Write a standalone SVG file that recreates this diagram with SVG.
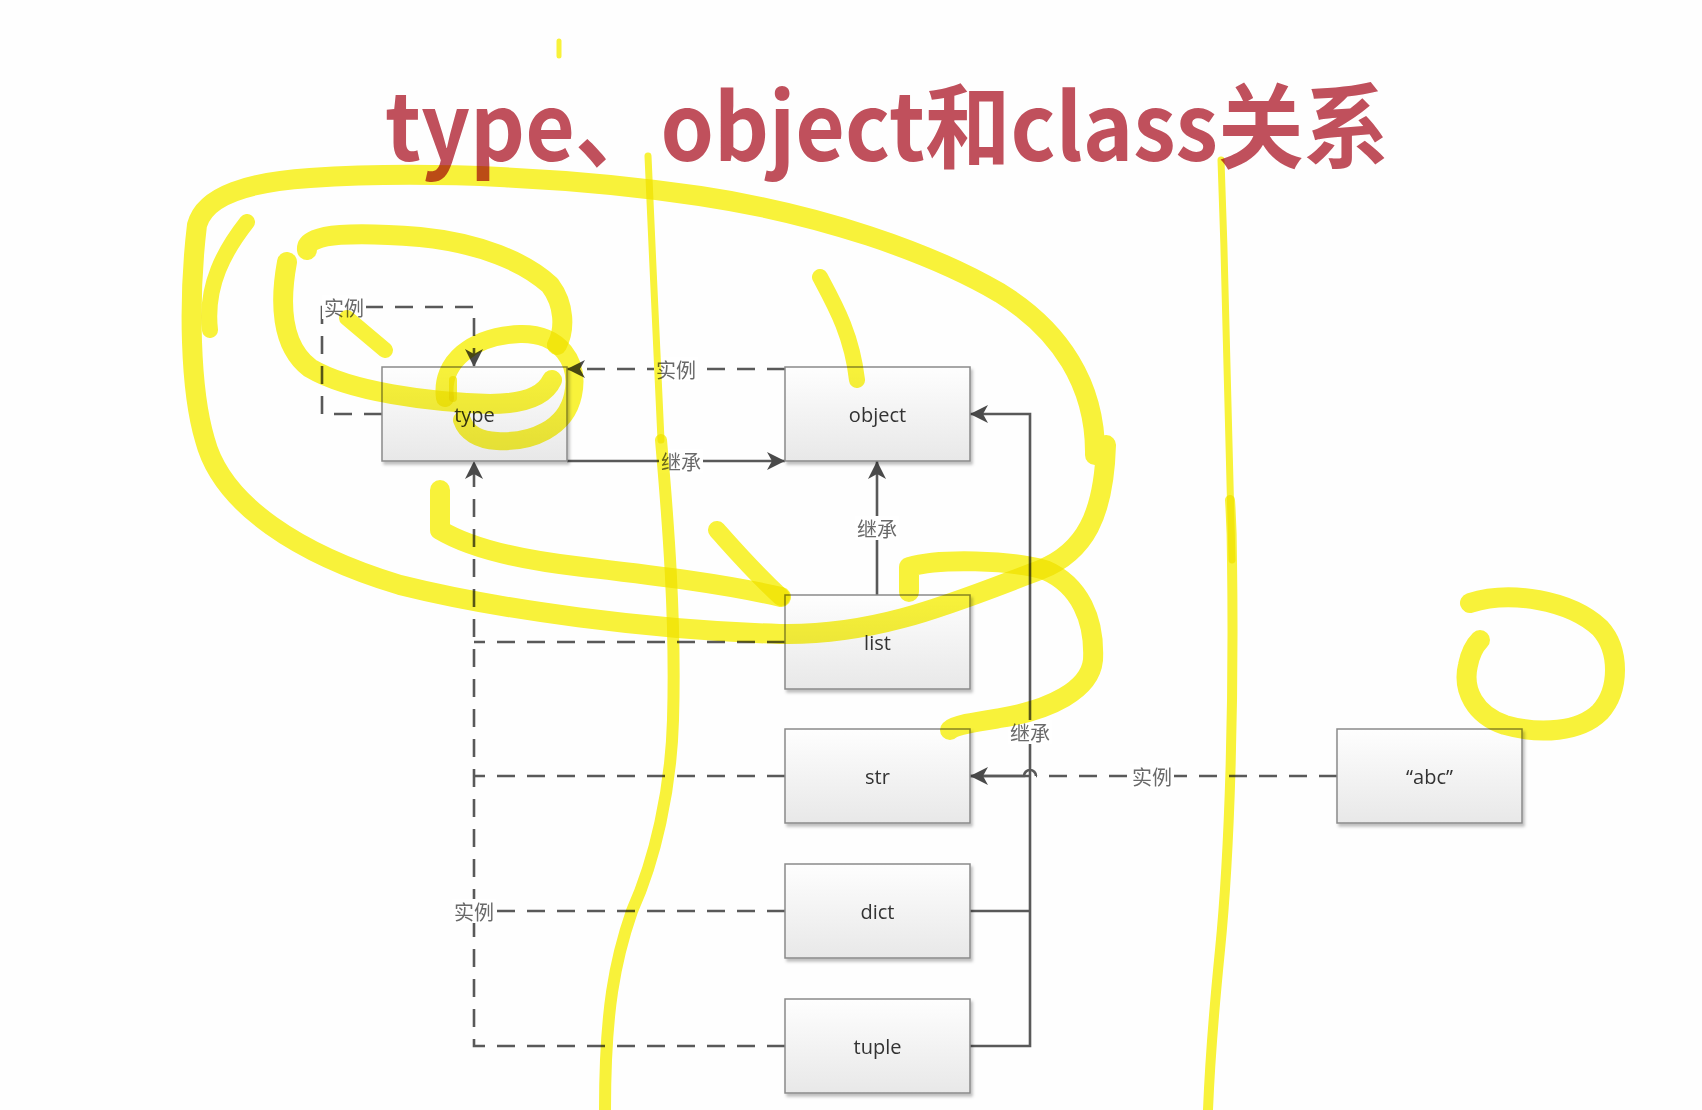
<svg xmlns="http://www.w3.org/2000/svg" width="1702" height="1110" viewBox="0 0 1702 1110">
<defs>
  <linearGradient id="boxg" x1="0" y1="0" x2="0" y2="1">
    <stop offset="0" stop-color="#fefefe"/>
    <stop offset="1" stop-color="#e8e8e8"/>
  </linearGradient>
  <filter id="sh" x="-10%" y="-10%" width="130%" height="130%">
    <feDropShadow dx="2" dy="3" stdDeviation="1.5" flood-color="#000" flood-opacity="0.25"/>
  </filter>
  <marker id="arr" viewBox="0 0 18 18" refX="18" refY="9" markerWidth="18" markerHeight="18" markerUnits="userSpaceOnUse" orient="auto">
    <path d="M0,0 L18,9 L0,18 L5,9 z" fill="#4a4a4a"/>
  </marker>
  <style>
    .box rect {fill:url(#boxg); stroke:#8a8a8a; stroke-width:1.5; filter:url(#sh)}
    .box text {font-family:"Open Sans","Noto Sans",sans-serif; font-size:20px; fill:#333; text-anchor:middle; dominant-baseline:central}
    .ln {fill:none; stroke:#595959; stroke-width:2.6}
    .dash {stroke-dasharray:18 12}
    .lbl rect {fill:#fff}
    .lbl text {font-family:"Noto Sans CJK SC",sans-serif; font-size:20px; fill:#6a6a6a; text-anchor:middle; dominant-baseline:central}
    .hl {fill:none; stroke:#f9f33a; stroke-linecap:round; stroke-linejoin:round; mix-blend-mode:multiply}
  </style>
</defs>
<rect x="0" y="0" width="1702" height="1110" fill="#fefefe"/>

<text x="385" y="161" font-family="'Noto Sans CJK SC',sans-serif" font-weight="700" font-size="92" fill="#c0505c" textLength="1004" lengthAdjust="spacingAndGlyphs">type、object和class关系</text>

<g id="connectors">
  <path class="ln dash" d="M382 414 H322 V307 H474 V367" marker-end="url(#arr)"/>
  <path class="ln dash" d="M785 369 H567" marker-end="url(#arr)"/>
  <path class="ln" d="M567 461 H785" marker-end="url(#arr)"/>
  <path class="ln" d="M877 595 V461" marker-end="url(#arr)"/>
  <path class="ln dash" d="M785 1046 H474 V461" marker-end="url(#arr)"/>
  <path class="ln dash" d="M785 642 H474"/>
  <path class="ln dash" d="M785 776 H474"/>
  <path class="ln dash" d="M785 911 H474"/>
  <path class="ln" d="M970 1046 H1030 V414 H970" marker-end="url(#arr)"/>
  <path class="ln" d="M970 911 H1030"/>
  <path class="ln" d="M970 776 H1030"/>
  <path class="ln dash" d="M1337 776 H1036"/>
  <path class="ln" d="M1036 776 A6 6 0 0 0 1024 776 H970" marker-end="url(#arr)"/>

  <g class="lbl">
    <rect x="322" y="295" width="44" height="24"/><text x="344" y="307">实例</text>
    <rect x="654" y="357" width="44" height="24"/><text x="676" y="369">实例</text>
    <rect x="659" y="449" width="44" height="24"/><text x="681" y="461">继承</text>
    <rect x="855" y="516" width="44" height="24"/><text x="877" y="528">继承</text>
    <rect x="452" y="899" width="44" height="24"/><text x="474" y="911">实例</text>
    <rect x="1008" y="720" width="44" height="24"/><text x="1030" y="732">继承</text>
    <rect x="1130" y="764" width="44" height="24"/><text x="1152" y="776">实例</text>
  </g>
</g>

<g id="node-type" class="box"><rect x="382" y="367" width="185" height="94"/><text x="474.5" y="414">type</text></g>
<g id="node-object" class="box"><rect x="785" y="367" width="185" height="94"/><text x="877.5" y="414">object</text></g>
<g id="node-list" class="box"><rect x="785" y="595" width="185" height="94"/><text x="877.5" y="642">list</text></g>
<g id="node-str" class="box"><rect x="785" y="729" width="185" height="94"/><text x="877.5" y="776">str</text></g>
<g id="node-dict" class="box"><rect x="785" y="864" width="185" height="94"/><text x="877.5" y="911">dict</text></g>
<g id="node-tuple" class="box"><rect x="785" y="999" width="185" height="94"/><text x="877.5" y="1046">tuple</text></g>
<g id="node-abc" class="box"><rect x="1337" y="729" width="185" height="94"/><text x="1429.5" y="776">“abc”</text></g>

<g id="highlights">
  <path class="hl" stroke-width="20" d="M1095 455 C1096 385 1060 330 1000 293 C930 252 820 214 700 196 C580 178 430 170 310 178 C250 182 205 195 197 225 C188 300 190 390 205 440 C222 505 300 555 400 585 C500 610 650 630 780 634 C880 636 960 600 1040 570 C1085 552 1104 515 1106 445"/>
  <path class="hl" stroke-width="16" d="M247 222 C225 250 205 285 210 330"/>
  <path class="hl" stroke-width="20" d="M307 250 C305 232 360 232 420 237 C480 243 525 262 550 285 C565 305 565 330 557 345"/>
  <path class="hl" stroke-width="20" d="M287 262 C280 300 280 345 310 368 C350 392 430 402 490 404 C525 404 545 395 552 380"/>
  <path class="hl" stroke-width="18" d="M445 398 C440 362 472 336 520 334 C560 333 580 362 573 395 C566 428 532 443 497 441 C478 440 466 432 462 420"/>
  <path class="hl" stroke-width="8" d="M453 380 L453 398"/>
  <path class="hl" stroke-width="16" d="M347 318 L385 350"/>
  <path class="hl" stroke-width="20" d="M440 490 L440 530 C470 548 520 560 583 567 C650 575 720 583 781 597"/>
  <path class="hl" stroke-width="18" d="M717 530 C735 550 752 570 781 597"/>
  <path class="hl" stroke-width="16" d="M820 277 C835 305 852 335 857 380"/>
  <path class="hl" stroke-width="20" d="M909 592 L909 567 C940 558 1010 560 1045 570 C1080 585 1095 620 1093 660 C1090 690 1050 710 1000 718 C975 722 955 725 950 730"/>
  <path class="hl" stroke-width="7" d="M648 156 C652 250 657 350 661 440"/>
  <path class="hl" stroke-width="12" d="M661 440 C668 520 676 620 673 720 C671 790 655 860 632 911 C615 960 605 1010 605 1110"/>
  <path class="hl" stroke-width="7" d="M1221 160 C1226 300 1230 450 1232 560"/>
  <path class="hl" stroke-width="10" d="M1230 500 C1232 530 1232 545 1232 560 C1234 700 1230 850 1220 950 C1214 1010 1210 1060 1208 1110"/>
  <path class="hl" stroke-width="20" d="M1470 603 C1510 590 1570 600 1600 628 C1620 650 1620 690 1600 712 C1580 732 1540 735 1505 725 C1475 715 1462 690 1468 665 C1470 655 1475 645 1480 640"/>
  <path class="hl" stroke-width="5" d="M559 41 L559 56"/>
</g>
</svg>
